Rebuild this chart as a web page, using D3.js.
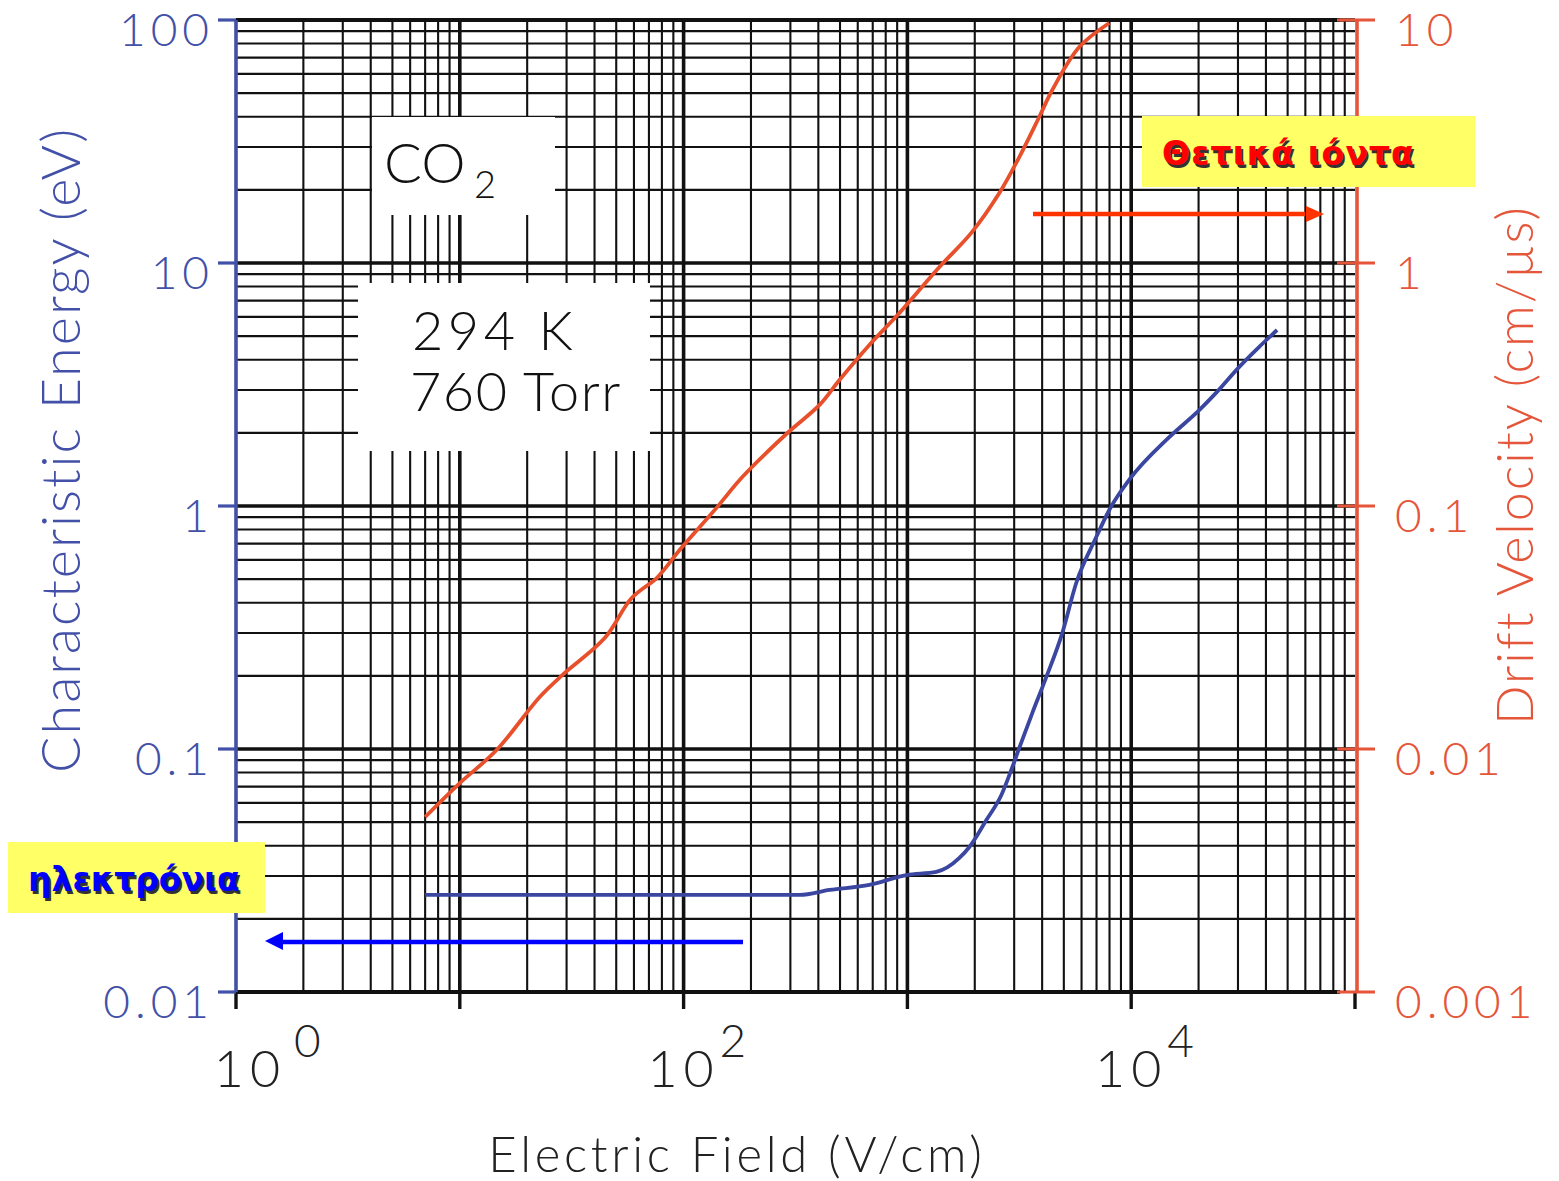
<!DOCTYPE html>
<html>
<head>
<meta charset="utf-8">
<script src="https://cdn.jsdelivr.net/npm/d3@7"></script>
<style>
  body { margin: 0; background: #fff; }
  svg { display: block; }
  text { font-family: "Lato", "Open Sans", sans-serif; font-weight: 300; }
</style>
</head>
<body>
<svg width="1559" height="1181"></svg>
<script>
  // positive ions in CO2: drift velocity (cm/us) vs field (V/cm)
  var ionField = [7, 10, 14.6, 22.8, 28.8, 44.4, 58.6, 76.6, 96, 140, 183, 291, 405, 497, 676, 921, 1390, 1930, 2575, 3162, 3882, 4440, 5860, 7980];
  var ionVel   = [0.00525, 0.00724, 0.0099, 0.0164, 0.0202, 0.0286, 0.0418, 0.051, 0.0659, 0.098, 0.1316, 0.1997, 0.2606, 0.33, 0.46, 0.623, 0.963, 1.33, 1.94, 2.73, 3.99, 5.15, 7.74, 9.72];

  // electrons in CO2: characteristic energy (eV) vs field (V/cm)
  var elField  = [7, 100, 330, 449, 676, 990, 1346, 1708, 1892, 2253, 2630, 2945, 3162, 3614, 4178, 4920, 5680, 6980, 7980, 9790, 14790, 20140, 23940, 30330, 37240, 44870];
  var elEnergy = [0.0251, 0.0251, 0.0251, 0.0263, 0.0276, 0.0303, 0.0312, 0.0356, 0.0395, 0.051, 0.0647, 0.0843, 0.101, 0.1406, 0.198, 0.30, 0.482, 0.745, 0.963, 1.28, 1.92, 2.48, 2.92, 3.73, 4.51, 5.30];

  var leftTicks   = [0.01, 0.1, 1, 10, 100];
  var leftLabels  = ["0.01", "0.1", "1", "10", "100"];
  var rightTicks  = [0.001, 0.01, 0.1, 1, 10];
  var rightLabels = ["0.001", "0.01", "0.1", "1", "10"];
  var xTicks      = [1, 100, 10000];
  var xExponents  = ["0", "2", "4"];

  var blue = "#4250a8";
  var orange = "#e5553a";

  var svg = d3.select("svg");

  var x = d3.scaleLog().domain([1, 1e5]).range([236, 1355]);
  var yL = d3.scaleLog().domain([0.01, 100]).range([992, 20]);
  var yR = d3.scaleLog().domain([0.001, 10]).range([992, 20]);

  function isDecade(d) {
    var l = Math.log10(d);
    return Math.abs(l - Math.round(l)) < 1e-6;
  }

  // grid
  var grid = svg.append("g");
  grid.selectAll("line.v")
      .data(x.ticks().filter(function(d) { return d > 1 && d < 1e5; }))
      .enter().append("line")
      .attr("x1", function(d) { return x(d); })
      .attr("x2", function(d) { return x(d); })
      .attr("y1", 20).attr("y2", 992)
      .attr("stroke", "#111")
      .attr("stroke-width", function(d) { return isDecade(d) ? 3.6 : 2.1; });

  grid.selectAll("line.h")
      .data(yL.ticks().filter(function(d) { return d > 0.01; }))
      .enter().append("line")
      .attr("x1", 236).attr("x2", 1355)
      .attr("y1", function(d) { return yL(d); })
      .attr("y2", function(d) { return yL(d); })
      .attr("stroke", "#111")
      .attr("stroke-width", function(d) { return isDecade(d) ? 3.6 : 2.1; });

  // white label boxes over the grid
  svg.append("rect").attr("x", 372).attr("y", 117).attr("width", 183).attr("height", 98).attr("fill", "#fff");
  svg.append("rect").attr("x", 358).attr("y", 283).attr("width", 292).attr("height", 168).attr("fill", "#fff");

  svg.append("text").attr("x", 384).attr("y", 183).attr("font-size", 56).attr("fill", "#111").text("CO");
  svg.append("text").attr("x", 474).attr("y", 198).attr("font-size", 38).attr("fill", "#111").text("2");
  svg.append("text").attr("x", 412).attr("y", 350).attr("font-size", 54).attr("fill", "#111")
      .attr("letter-spacing", 4.5).text("294 K");
  svg.append("text").attr("x", 410).attr("y", 411).attr("font-size", 54).attr("fill", "#111")
      .attr("letter-spacing", 1.5).text("760 Torr");

  // bottom axis
  svg.append("line").attr("x1", 236).attr("x2", 1340).attr("y1", 992).attr("y2", 992)
      .attr("stroke", "#111").attr("stroke-width", 3.8);
  svg.selectAll("line.xt")
      .data(x.ticks().filter(isDecade))
      .enter().append("line")
      .attr("x1", function(d) { return x(d); })
      .attr("x2", function(d) { return x(d); })
      .attr("y1", 992).attr("y2", 1009)
      .attr("stroke", "#111").attr("stroke-width", 3.4);

  // top border
  svg.append("line").attr("x1", 236).attr("x2", 1340).attr("y1", 20).attr("y2", 20)
      .attr("stroke", "#111").attr("stroke-width", 3.8);

  var xl = svg.append("g");
  xTicks.forEach(function(d, i) {
    xl.append("text").attr("x", x(d) + (i === 0 ? 14 : 0)).attr("y", 1087)
      .attr("text-anchor", "middle").attr("font-size", 52).attr("fill", "#222")
      .attr("letter-spacing", 6).text("10");
    xl.append("text").attr("x", x(d) + (i === 0 ? 58 : 36)).attr("y", 1057)
      .attr("font-size", 46).attr("fill", "#222").text(xExponents[i]);
  });

  svg.append("text").attr("x", 737).attr("y", 1172).attr("text-anchor", "middle")
      .attr("font-size", 49).attr("fill", "#222").attr("letter-spacing", 3.7)
      .text("Electric Field (V/cm)");

  // left axis (characteristic energy)
  svg.append("line").attr("x1", 236).attr("x2", 236).attr("y1", 20).attr("y2", 992)
      .attr("stroke", blue).attr("stroke-width", 3.6);
  leftTicks.forEach(function(d, i) {
    svg.append("line").attr("x1", 218).attr("x2", 236).attr("y1", yL(d)).attr("y2", yL(d))
      .attr("stroke", blue).attr("stroke-width", 3.2);
    svg.append("text").attr("x", 214).attr("y", yL(d) + 26)
      .attr("text-anchor", "end").attr("font-size", 46).attr("fill", blue)
      .attr("letter-spacing", 5).text(leftLabels[i]);
  });
  svg.append("text")
      .attr("transform", "translate(80,450) rotate(-90)")
      .attr("text-anchor", "middle").attr("font-size", 54).attr("fill", blue)
      .attr("letter-spacing", 2)
      .text("Characteristic Energy (eV)");

  // right axis (drift velocity)
  svg.append("line").attr("x1", 1357).attr("x2", 1357).attr("y1", 20).attr("y2", 992)
      .attr("stroke", orange).attr("stroke-width", 3.6);
  rightTicks.forEach(function(d, i) {
    svg.append("line").attr("x1", 1337).attr("x2", 1375).attr("y1", yR(d)).attr("y2", yR(d))
      .attr("stroke", orange).attr("stroke-width", 3.2);
    svg.append("text").attr("x", 1395).attr("y", yR(d) + 26)
      .attr("font-size", 46).attr("fill", orange)
      .attr("letter-spacing", 5).text(rightLabels[i]);
  });
  svg.append("text")
      .attr("transform", "translate(1533,465) rotate(-90)")
      .attr("text-anchor", "middle").attr("font-size", 52).attr("fill", orange)
      .attr("letter-spacing", 2)
      .text("Drift Velocity (cm/µs)");

  // curves
  var ionLine = d3.line()
      .x(function(d) { return x(d[0]); })
      .y(function(d) { return yR(d[1]); })
      .curve(d3.curveCatmullRom);
  var elLine = d3.line()
      .x(function(d) { return x(d[0]); })
      .y(function(d) { return yL(d[1]); })
      .curve(d3.curveMonotoneX);

  svg.append("path").datum(d3.zip(ionField, ionVel))
      .attr("d", ionLine).attr("fill", "none")
      .attr("stroke", "#e8502c").attr("stroke-width", 3.8);
  svg.append("path").datum(d3.zip(elField, elEnergy))
      .attr("d", elLine).attr("fill", "none")
      .attr("stroke", "#3a46a0").attr("stroke-width", 3.8);

  // annotations
  svg.append("rect").attr("x", 1142).attr("y", 116).attr("width", 333).attr("height", 71).attr("fill", "#ffff66");
  svg.append("rect").attr("x", 8).attr("y", 842).attr("width", 257).attr("height", 71).attr("fill", "#ffff66");

  function shadowText(tx, ty, col, s, ls) {
    [["#333", 2, 3], [col, 0, 0]].forEach(function(p) {
      svg.append("text").attr("x", tx + p[1]).attr("y", ty + p[2])
        .style("font-family", "'DejaVu Sans', sans-serif").style("font-weight", 700)
        .attr("font-size", 33).attr("fill", p[0]).attr("letter-spacing", ls)
        .text(s);
    });
  }
  shadowText(1162, 165, "#ff0000", "Θετικά ιόντα", 1.1);
  shadowText(28, 891, "#0000ff", "ηλεκτρόνια", 0);

  svg.append("line").attr("x1", 1033).attr("x2", 1305).attr("y1", 214).attr("y2", 214)
      .attr("stroke", "#ff3300").attr("stroke-width", 4.5);
  svg.append("path").attr("d", "M1324,214 L1306,206 L1306,222 Z").attr("fill", "#ff3300");

  svg.append("line").attr("x1", 743).attr("x2", 282).attr("y1", 942).attr("y2", 942)
      .attr("stroke", "#0000ff").attr("stroke-width", 4.5);
  svg.append("path").attr("d", "M265,941 L283,932 L283,950 Z").attr("fill", "#0000ff");
</script>
</body>
</html>
